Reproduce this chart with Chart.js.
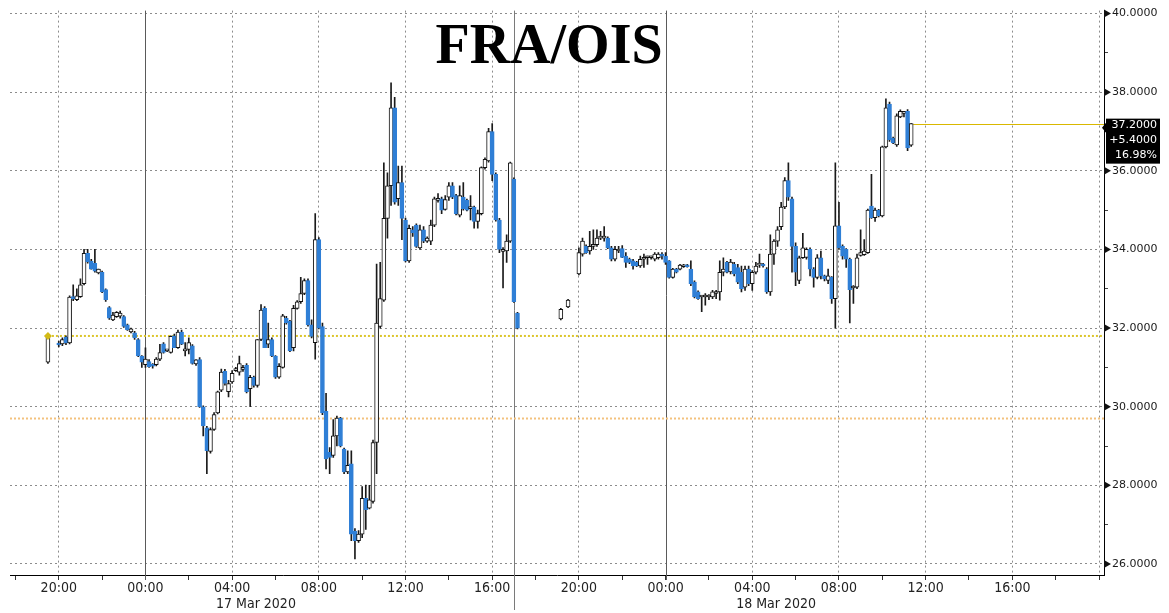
<!DOCTYPE html>
<html>
<head>
<meta charset="utf-8">
<title>FRA/OIS</title>
<script src="https://cdn.jsdelivr.net/npm/chart.js@4.4.1/dist/chart.umd.min.js"></script>
<style>
  html, body { margin: 0; padding: 0; background: #fff; }
  #wrap { position: relative; width: 1169px; height: 613px; }
</style>
</head>
<body>
<div id="wrap"><canvas id="fra-chart"></canvas></div>
<script>
// 10 minute bars, "day hh:mm" (March 2020)
const times = [
  "16 19:30",
  "16 20:00","16 20:10","16 20:20","16 20:30","16 20:40","16 20:50",
  "16 21:00","16 21:10","16 21:20","16 21:30","16 21:40","16 21:50",
  "16 22:00","16 22:10","16 22:20","16 22:30","16 22:40","16 22:50",
  "16 23:00","16 23:10","16 23:20","16 23:30","16 23:40","16 23:50",
  "17 00:00","17 00:10","17 00:20","17 00:30","17 00:40","17 00:50",
  "17 01:00","17 01:10","17 01:20","17 01:30","17 01:40","17 01:50",
  "17 02:00","17 02:10","17 02:20","17 02:30","17 02:40","17 02:50",
  "17 03:00","17 03:10","17 03:20","17 03:30","17 03:40","17 03:50",
  "17 04:00","17 04:10","17 04:20","17 04:30","17 04:40","17 04:50",
  "17 05:00","17 05:10","17 05:20","17 05:30","17 05:40","17 05:50",
  "17 06:00","17 06:10","17 06:20","17 06:30","17 06:40","17 06:50",
  "17 07:00","17 07:10","17 07:20","17 07:30","17 07:40","17 07:50",
  "17 08:00","17 08:10","17 08:20","17 08:30","17 08:40","17 08:50",
  "17 09:00","17 09:10","17 09:20","17 09:30","17 09:40","17 09:50",
  "17 10:00","17 10:10","17 10:20","17 10:30","17 10:40","17 10:50",
  "17 11:00","17 11:10","17 11:20","17 11:30","17 11:40","17 11:50",
  "17 12:00","17 12:10","17 12:20","17 12:30","17 12:40","17 12:50",
  "17 13:00","17 13:10","17 13:20","17 13:30","17 13:40","17 13:50",
  "17 14:00","17 14:10","17 14:20","17 14:30","17 14:40","17 14:50",
  "17 15:00","17 15:10","17 15:20","17 15:30","17 15:40","17 15:50",
  "17 16:00","17 16:10","17 16:20","17 16:30","17 16:40","17 16:50",
  "17 17:00","17 17:10",
  "17 19:10","17 19:30",
  "17 20:00","17 20:10","17 20:20","17 20:30","17 20:40","17 20:50",
  "17 21:00","17 21:10","17 21:20","17 21:30","17 21:40","17 21:50",
  "17 22:00","17 22:10","17 22:20","17 22:30","17 22:40","17 22:50",
  "17 23:00","17 23:10","17 23:20","17 23:30","17 23:40","17 23:50",
  "18 00:00","18 00:10","18 00:20","18 00:30","18 00:40","18 00:50",
  "18 01:00","18 01:10","18 01:20","18 01:30","18 01:40","18 01:50",
  "18 02:00","18 02:10","18 02:20","18 02:30","18 02:40","18 02:50",
  "18 03:00","18 03:10","18 03:20","18 03:30","18 03:40","18 03:50",
  "18 04:00","18 04:10","18 04:20","18 04:30","18 04:40","18 04:50",
  "18 05:00","18 05:10","18 05:20","18 05:30","18 05:40","18 05:50",
  "18 06:00","18 06:10","18 06:20","18 06:30","18 06:40","18 06:50",
  "18 07:00","18 07:10","18 07:20","18 07:30","18 07:40","18 07:50",
  "18 08:00","18 08:10","18 08:20","18 08:30","18 08:40","18 08:50",
  "18 09:00","18 09:10","18 09:20","18 09:30","18 09:40","18 09:50",
  "18 10:00","18 10:10","18 10:20","18 10:30","18 10:40","18 10:50",
  "18 11:00","18 11:10","18 11:20"
];

const open = [
  31.13,
  31.62, 31.60, 31.77, 31.62, 32.80, 32.72,
  32.80, 33.13, 33.90, 33.70, 33.65, 33.40,
  33.42, 32.98, 32.52, 32.21, 32.29, 32.30,
  32.29, 32.08, 31.90, 31.88, 31.71, 31.29,
  31.07, 31.15, 31.05, 31.07, 31.21, 31.60,
  31.42, 31.38, 31.80, 31.50, 31.90, 31.42,
  31.46, 31.55, 31.09, 31.20, 30.00, 29.46,
  28.86, 29.42, 29.84, 30.42, 30.90, 30.38,
  30.63, 30.92, 30.88, 30.95, 31.05, 30.46,
  30.75, 30.54, 31.71, 32.50, 31.59, 31.71,
  31.29, 30.75, 31.00, 32.25, 32.17, 31.50,
  32.50, 32.67, 32.88, 33.21, 32.08, 31.63,
  34.25, 32.04, 29.88, 28.84, 28.76, 29.26,
  29.71, 28.92, 28.34, 28.55, 26.84, 26.59,
  26.76, 27.67, 27.42, 27.59, 29.09, 32.04,
  32.71, 34.79, 35.62, 37.60, 35.29, 35.70,
  34.75, 33.71, 34.50, 34.62, 34.04, 34.50,
  34.21, 34.21, 34.62, 35.25, 35.29, 35.02,
  35.33, 35.62, 35.37, 34.87, 35.33, 35.25,
  35.04, 35.08, 34.71, 34.91, 36.08, 36.25,
  37.00, 35.91, 34.75, 33.95, 33.96, 34.21,
  35.79, 32.38,
  32.23, 32.54,
  33.38, 33.88, 34.08, 33.96, 34.08, 34.12,
  34.29, 34.29, 34.29, 34.04, 33.75, 33.96,
  34.02, 33.83, 33.75, 33.71, 33.67, 33.58,
  33.75, 33.79, 33.79, 33.75, 33.79, 33.85,
  33.83, 33.71, 33.29, 33.50, 33.50, 33.56,
  33.60, 33.50, 33.17, 32.92, 32.79, 32.79,
  32.79, 32.79, 32.88, 32.92, 33.42, 33.67,
  33.43, 33.62, 33.54, 33.42, 33.04, 33.50,
  33.13, 33.42, 33.60, 33.63, 33.50, 32.92,
  33.88, 34.21, 34.58, 35.08, 35.75, 35.29,
  34.08, 33.21, 33.79, 33.80, 34.00, 33.50,
  33.29, 33.79, 33.33, 33.21, 33.29, 32.75,
  34.60, 34.08, 34.00, 33.75, 33.02, 33.04,
  33.85, 33.87, 33.92, 35.10, 34.81, 35.00,
  34.85, 36.61, 37.70, 36.83, 36.66, 37.37,
  37.46, 37.51, 36.65
];

const high = [
  31.82,
  31.67, 31.75, 31.80, 32.82, 33.10, 33.00,
  33.25, 34.00, 34.00, 33.75, 34.00, 33.50,
  33.45, 33.00, 32.55, 32.40, 32.42, 32.43,
  32.32, 32.10, 32.00, 31.92, 31.73, 31.30,
  31.50, 31.20, 31.10, 31.25, 31.59, 31.63,
  31.45, 31.80, 31.85, 31.95, 31.95, 31.63,
  31.75, 31.58, 31.20, 31.25, 30.02, 29.50,
  29.46, 29.85, 30.40, 30.96, 30.95, 30.67,
  30.92, 31.00, 31.29, 31.05, 31.10, 30.80,
  30.78, 31.71, 32.60, 32.55, 32.13, 31.75,
  31.30, 31.10, 32.35, 32.30, 32.20, 32.58,
  32.70, 33.29, 33.25, 33.25, 32.21, 34.91,
  34.30, 32.13, 30.34, 28.96, 29.67, 29.76,
  29.73, 28.95, 28.88, 28.88, 26.90, 26.85,
  27.97, 28.01, 28.00, 29.15, 33.63, 33.67,
  36.20, 35.95, 38.24, 37.87, 36.12, 36.12,
  34.80, 34.62, 34.58, 34.65, 34.62, 34.58,
  34.32, 34.75, 35.33, 35.42, 35.33, 35.37,
  35.70, 35.70, 35.40, 35.62, 35.70, 35.28,
  35.37, 35.10, 35.00, 36.10, 36.33, 37.08,
  37.20, 35.95, 34.79, 34.05, 34.37, 36.22,
  35.82, 32.40,
  32.50, 32.73,
  34.04, 34.29, 34.12, 34.46, 34.50, 34.50,
  34.46, 34.58, 34.32, 34.08, 34.08, 34.08,
  34.10, 33.92, 33.78, 33.75, 33.70, 33.83,
  33.88, 33.83, 33.83, 33.92, 33.92, 33.92,
  33.92, 33.72, 33.52, 33.52, 33.62, 33.62,
  33.62, 33.71, 33.20, 32.95, 32.82, 32.88,
  32.85, 32.96, 32.96, 33.71, 33.79, 33.70,
  33.75, 33.67, 33.62, 33.58, 33.58, 33.58,
  33.46, 33.67, 33.88, 33.65, 33.54, 34.37,
  34.25, 34.58, 35.20, 35.83, 36.20, 35.33,
  34.17, 33.83, 34.41, 34.04, 34.04, 33.54,
  33.87, 33.96, 33.35, 33.50, 33.31, 36.20,
  35.20, 34.12, 34.02, 33.78, 33.08, 33.88,
  34.50, 34.25, 35.03, 35.91, 35.05, 35.02,
  36.63, 37.83, 37.75, 36.86, 37.45, 37.55,
  37.51, 37.56, 37.20
];

const low = [
  31.10,
  31.52, 31.55, 31.58, 31.60, 32.70, 32.70,
  32.78, 33.10, 33.65, 33.50, 33.42, 33.38,
  32.90, 32.68, 32.22, 32.19, 32.27, 32.25,
  32.02, 31.94, 31.88, 31.71, 31.27, 31.00,
  31.00, 31.00, 30.98, 31.04, 31.17, 31.36,
  31.40, 31.36, 31.50, 31.48, 31.58, 31.29,
  31.34, 31.08, 31.05, 29.98, 29.26, 28.30,
  28.82, 29.40, 29.82, 30.38, 30.55, 30.25,
  30.59, 30.90, 30.80, 30.90, 30.35, 30.00,
  30.50, 30.50, 31.68, 31.50, 31.50, 31.27,
  30.72, 30.72, 30.98, 32.10, 31.40, 31.42,
  32.48, 32.63, 32.85, 32.05, 31.75, 31.21,
  31.98, 29.80, 28.42, 28.30, 28.71, 29.00,
  28.98, 28.30, 28.30, 26.59, 26.13, 26.55,
  26.67, 26.88, 27.40, 27.55, 28.30, 32.00,
  32.68, 34.29, 35.12, 35.15, 35.12, 34.25,
  33.68, 33.67, 34.33, 34.05, 34.00, 34.17,
  34.18, 34.12, 34.58, 35.20, 34.91, 35.00,
  35.25, 35.29, 34.88, 34.83, 35.00, 34.98,
  34.75, 34.54, 34.54, 34.88, 36.04, 36.22,
  35.75, 34.72, 33.92, 33.02, 33.67, 34.18,
  32.65, 31.98,
  32.21, 32.52,
  33.35, 33.83, 33.90, 33.88, 34.00, 34.08,
  34.25, 34.21, 34.02, 33.71, 33.71, 33.92,
  33.79, 33.54, 33.64, 33.50, 33.56, 33.54,
  33.54, 33.62, 33.75, 33.71, 33.75, 33.75,
  33.62, 33.27, 33.27, 33.40, 33.48, 33.54,
  33.55, 33.08, 32.77, 32.73, 32.42, 32.58,
  32.72, 32.75, 32.75, 32.71, 33.33, 33.40,
  33.38, 33.33, 33.13, 32.92, 32.96, 33.08,
  32.96, 33.38, 33.54, 33.55, 32.88, 32.83,
  33.62, 34.08, 34.50, 35.04, 35.25, 33.42,
  33.08, 33.13, 33.77, 33.75, 33.33, 33.04,
  33.25, 33.25, 33.20, 33.13, 32.63, 32.00,
  34.00, 33.75, 33.54, 32.13, 32.63, 33.00,
  33.83, 33.85, 33.90, 34.79, 34.71, 34.83,
  34.83, 36.58, 36.75, 36.69, 36.62, 37.35,
  37.37, 36.51, 36.62
];

const close = [
  31.80,
  31.57, 31.71, 31.62, 32.79, 32.75, 32.82,
  33.10, 33.90, 33.68, 33.50, 33.45, 33.50,
  32.92, 32.72, 32.25, 32.33, 32.40, 32.38,
  32.04, 31.96, 31.98, 31.75, 31.29, 31.13,
  31.21, 31.02, 31.03, 31.21, 31.38, 31.38,
  31.43, 31.79, 31.50, 31.90, 31.59, 31.43,
  31.63, 31.10, 31.19, 30.00, 29.51, 28.88,
  29.42, 29.80, 30.38, 30.88, 30.59, 30.59,
  30.85, 30.96, 31.10, 31.00, 30.38, 30.75,
  30.54, 31.71, 32.46, 31.50, 31.71, 31.29,
  30.75, 31.03, 32.31, 32.13, 31.42, 32.50,
  32.67, 32.88, 33.21, 32.08, 31.79, 34.25,
  32.00, 29.84, 28.67, 28.71, 29.26, 29.71,
  29.00, 28.34, 28.51, 26.76, 26.59, 26.76,
  27.67, 27.38, 27.63, 29.09, 32.13, 32.75,
  34.79, 35.62, 37.60, 35.20, 35.70, 34.79,
  33.71, 34.54, 34.42, 34.08, 34.50, 34.21,
  34.29, 34.62, 35.29, 35.29, 35.00, 35.27,
  35.62, 35.33, 34.91, 35.37, 35.04, 35.00,
  35.08, 34.71, 34.91, 36.08, 36.29, 37.00,
  35.91, 34.75, 34.00, 34.00, 34.21, 36.20,
  32.67, 32.00,
  32.48, 32.71,
  33.92, 34.21, 33.92, 34.08, 34.12, 34.29,
  34.30, 34.31, 34.04, 33.75, 34.00, 34.00,
  33.80, 33.67, 33.67, 33.58, 33.58, 33.75,
  33.79, 33.80, 33.80, 33.88, 33.88, 33.83,
  33.67, 33.29, 33.50, 33.42, 33.60, 33.60,
  33.56, 33.13, 32.79, 32.75, 32.80, 32.80,
  32.80, 32.92, 32.92, 33.42, 33.50, 33.42,
  33.68, 33.38, 33.17, 33.00, 33.50, 33.13,
  33.42, 33.58, 33.63, 33.58, 32.92, 33.88,
  34.21, 34.50, 35.08, 35.75, 35.33, 34.08,
  33.42, 33.79, 34.04, 34.00, 33.50, 33.29,
  33.79, 33.33, 33.25, 33.33, 32.75, 34.60,
  34.04, 33.83, 33.75, 32.98, 33.04, 33.79,
  33.92, 33.96, 35.00, 34.81, 35.00, 34.85,
  36.61, 37.60, 36.79, 36.71, 37.40, 37.51,
  37.50, 36.58, 37.20
];

const prevClose = 31.8;
const lowerLevel = 29.7;
const dayStarts = ["17 00:00", "18 00:00"];
const sessionBreaks = ["17 17:00"];
const dateLabels = ["17 Mar 2020", "18 Mar 2020"];
const title = "FRA/OIS";

// hours since 17 Mar 00:00
function toHours(t) {
  const [d, hm] = t.split(" ");
  const [hh, mm] = hm.split(":").map(Number);
  return (Number(d) - 17) * 24 + hh + mm / 60;
}

const xs = times.map(toHours);
const isUp = i => close[i] >= open[i];
const BLUE = "#2f7fd6";
const GRID = "#8c8c8c";
const narrowFont = '"Liberation Sans Narrow", "DejaVu Sans Condensed", "Arial Narrow", sans-serif';
const valueFont = '"DejaVu Sans", Verdana, sans-serif';

const extras = {
  id: "extras",
  beforeDatasetsDraw(chart) {
    const { ctx, chartArea: a, scales: { x, y } } = chart;
    ctx.save();
    // day separators
    ctx.strokeStyle = "#5a5a5a";
    ctx.lineWidth = 1;
    dayStarts.forEach(t => {
      const px = Math.round(x.getPixelForValue(toHours(t))) + 0.5;
      ctx.beginPath(); ctx.moveTo(px, a.top); ctx.lineTo(px, a.bottom + 5); ctx.stroke();
    });
    ctx.strokeStyle = "#7a7a7a";
    sessionBreaks.forEach(t => {
      const px = Math.round(x.getPixelForValue(toHours(t))) + 0.5;
      ctx.beginPath(); ctx.moveTo(px, a.top); ctx.lineTo(px, a.bottom + 35); ctx.stroke();
    });
    // lower reference level
    ctx.setLineDash([2, 2]);
    ctx.lineWidth = 2;
    ctx.strokeStyle = "#f3c27e";
    let py = y.getPixelForValue(lowerLevel);
    ctx.beginPath(); ctx.moveTo(a.left, py); ctx.lineTo(a.right, py); ctx.stroke();
    // previous close
    ctx.strokeStyle = "#dcc52a";
    py = y.getPixelForValue(prevClose);
    const x0 = x.getPixelForValue(xs[0]);
    ctx.beginPath(); ctx.moveTo(x0, py); ctx.lineTo(a.right, py); ctx.stroke();
    ctx.setLineDash([]);
    // last price line
    const last = close.length - 1;
    const ly = Math.round(y.getPixelForValue(close[last])) + 0.5;
    ctx.lineWidth = 1;
    ctx.strokeStyle = "#d9b800";
    ctx.beginPath(); ctx.moveTo(x.getPixelForValue(xs[last]) + 2, ly); ctx.lineTo(a.right, ly); ctx.stroke();
    ctx.restore();
  },
  afterDraw(chart) {
    const { ctx, chartArea: a, scales: { x, y } } = chart;
    ctx.save();
    // title
    ctx.fillStyle = "#000";
    ctx.font = 'bold 56px "Liberation Serif", "Times New Roman", serif';
    ctx.textAlign = "center";
    ctx.textBaseline = "alphabetic";
    ctx.fillText(title, 549, 63);

    // start marker on previous close
    const dx = x.getPixelForValue(xs[0]);
    const dy = y.getPixelForValue(prevClose);
    ctx.fillStyle = "#d2ba16";
    ctx.beginPath();
    ctx.moveTo(dx, dy - 4); ctx.lineTo(dx + 4, dy); ctx.lineTo(dx, dy + 4); ctx.lineTo(dx - 4, dy);
    ctx.closePath(); ctx.fill();

    // arrow heads on major y ticks
    ctx.fillStyle = "#111";
    y.ticks.forEach(t => {
      if (t.value % 2 !== 0) return;
      const ty = y.getPixelForValue(t.value);
      ctx.beginPath();
      ctx.moveTo(a.right, ty - 4); ctx.lineTo(a.right + 7, ty); ctx.lineTo(a.right, ty + 4);
      ctx.closePath(); ctx.fill();
    });

    // date labels under the time axis
    ctx.fillStyle = "#222";
    ctx.font = "14px " + narrowFont;
    ctx.textAlign = "center";
    ctx.textBaseline = "middle";
    dayStarts.forEach((t, i) => {
      ctx.fillText(dateLabels[i], x.getPixelForValue(toHours(t) + 5.1), 604);
    });

    // last price box
    const last = close.length - 1;
    const chg = close[last] - prevClose;
    const pct = chg / prevClose * 100;
    const ly = y.getPixelForValue(close[last]);
    const bx = a.right + 2, bw = 54, bt = ly - 5, bh = 45;
    ctx.fillStyle = "#000";
    ctx.fillRect(bx, bt, bw, bh);
    ctx.beginPath();
    ctx.moveTo(bx, ly - 1); ctx.lineTo(bx - 4, ly + 4); ctx.lineTo(bx, ly + 9);
    ctx.closePath(); ctx.fill();
    ctx.fillStyle = "#fff";
    ctx.font = "11px " + valueFont;
    ctx.textAlign = "right";
    ctx.textBaseline = "middle";
    const tx = bx + bw - 3;
    ctx.fillText(close[last].toFixed(4), tx, ly + 2);
    ctx.fillText((chg >= 0 ? "+" : "") + chg.toFixed(4), tx, ly + 17);
    ctx.fillText(pct.toFixed(2) + "%", tx, ly + 32);
    ctx.restore();
  }
};

const ctx = document.getElementById("fra-chart").getContext("2d");
const fraChart = new Chart(ctx, {
  type: "bar",
  data: {
    datasets: [
      {
        label: "body",
        data: xs.map((h, i) => ({ x: h, y: [open[i], close[i]] })),
        backgroundColor: c => isUp(c.dataIndex) ? "#ffffff" : BLUE,
        borderColor: c => isUp(c.dataIndex) ? "#111111" : BLUE,
        borderWidth: 1,
        borderSkipped: false,
        barThickness: 4,
        minBarLength: 2,
        grouped: false,
        order: 0
      },
      {
        label: "range",
        data: xs.map((h, i) => ({ x: h, y: [low[i], high[i]] })),
        backgroundColor: "#1a1a1a",
        borderWidth: 0,
        barThickness: 1,
        grouped: false,
        order: 1
      }
    ]
  },
  options: {
    responsive: true,
    maintainAspectRatio: false,
    animation: false,
    layout: { padding: { left: 10, top: 0, right: 0, bottom: 0 } },
    plugins: {
      legend: { display: false },
      tooltip: { enabled: false },
      title: { display: false }
    },
    scales: {
      x: {
        type: "linear",
        min: -6.25,
        max: 44.23,
        offset: false,
        grid: {
          offset: false,
          color: c => (c.tick.value % 4 === 0 && c.tick.value % 24 !== 0) ? GRID : "rgba(0,0,0,0)",
          tickColor: "#333",
          tickLength: 5,
          lineWidth: 1
        },
        border: { display: true, color: "#000", width: 1, dash: [2, 3] },
        ticks: {
          stepSize: 2,
          includeBounds: false,
          autoSkip: false,
          maxRotation: 0,
          padding: 0,
          color: "#222",
          font: { family: narrowFont, size: 14 },
          callback: v => {
            if (v % 4 !== 0 || v > 40) return "";
            const hh = ((v % 24) + 24) % 24;
            return String(hh).padStart(2, "0") + ":00";
          }
        },
        afterFit: s => { s.height = 38; }
      },
      y: {
        type: "linear",
        position: "right",
        min: 25.72,
        max: 40.075,
        grid: {
          color: c => c.tick.value % 2 === 0 ? GRID : "rgba(0,0,0,0)",
          tickColor: c => c.tick.value % 2 === 0 ? "rgba(0,0,0,0)" : "#444",
          tickLength: 4,
          lineWidth: 1
        },
        border: { display: true, color: "#000", width: 1, dash: [2, 3] },
        ticks: {
          stepSize: 1,
          includeBounds: false,
          padding: 4,
          color: "#1a1a1a",
          font: { family: valueFont, size: 11 },
          callback: v => v % 2 === 0 ? v.toFixed(4) : ""
        },
        afterFit: s => { s.width = 65; }
      }
    }
  },
  plugins: [extras]
});
</script>
</body>
</html>
